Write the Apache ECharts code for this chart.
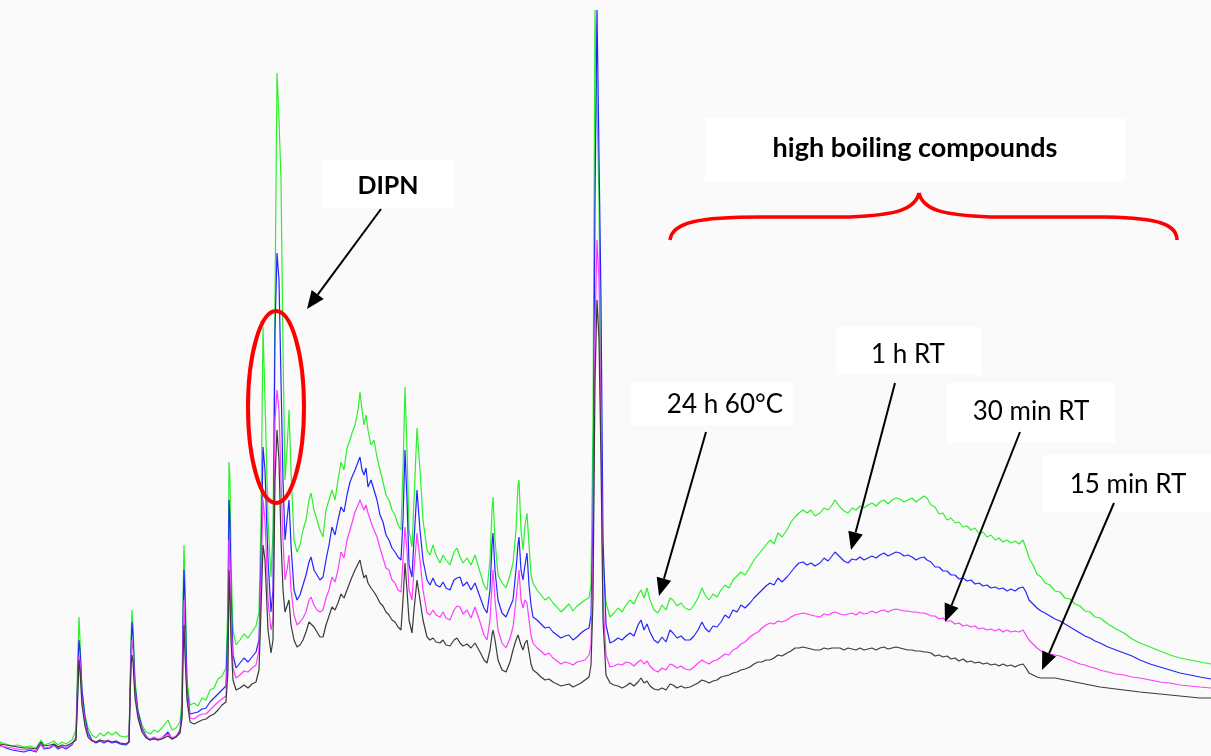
<!DOCTYPE html>
<html>
<head>
<meta charset="utf-8">
<script src="https://cdn.jsdelivr.net/npm/echarts@6/dist/echarts.min.js"></script>
<style>
  html, body { margin: 0; padding: 0; background: #fafafa; }
  #chart { width: 1211px; height: 756px; }
</style>
</head>
<body>
<div id="chart"></div>
<script>
// Retention positions (shared by all four chromatograms)
const retention = [
  0,6,12,18,24,30,36,41,44,50,54,58,62,66,72,76,
  78,79,80,82,85,88,92,96,100,104,108,112,116,120,126,129,
  131,132,133,135,138,142,146,150,154,158,162,168,172,176,180,
  182,183,184,185,187,190,194,198,202,206,210,214,218,222,226,
  228,229,230,231,233,236,240,244,248,252,256,259,
  261,263,265,268,271,273,275,277,279,281,283,285,287,289,291,294,297,
  300,303,306,309,311,314,317,320,323,326,329,332,335,338,341,344,347,350,352,355,358,360,
  362,364,366,368,371,374,377,380,383,386,389,392,395,398,401,
  403,405,407,409,412,414,417,420,423,427,430,433,436,440,443,446,450,
  454,457,460,463,467,471,475,477,480,484,487,490,492,493,
  495,498,502,506,510,513,516,518,519,521,523,525,527,529,531,533,
  537,541,545,549,553,557,561,565,569,573,577,581,585,589,591,
  593,595,597,599,601,603,606,610,
  614,618,622,626,630,634,638,641,644,647,650,654,658,662,666,670,673,677,681,685,690,
  694,698,702,705,709,713,717,721,725,729,733,737,741,745,750,754,758,762,766,770,
  774,778,782,787,791,795,799,803,807,811,815,820,824,828,832,835,837,840,
  844,848,852,856,860,864,868,872,876,880,884,888,892,896,900,904,908,912,916,920,924,
  927,931,935,939,943,947,951,955,959,963,967,971,975,979,983,987,991,995,999,1003,1007,1011,1015,1019,1023,
  1026,1029,1033,1037,1041,1045,1050,1055,1060,1065,1070,1075,1080,1085,1090,1095,1100,1108,1116,1124,1132,1140,1150,1160,1170,1180,1190,1200,1211
];

// Detector response, 24 h at 60°C (green)
const resp24h60C = [
  14,12,10,11,9,10,8,16,11,13,15,11,14,12,16,26,
  106,139,116,66,41,28,21,18,23,20,24,21,24,20,19,21,
  116,146,131,76,46,31,24,22,26,24,28,36,26,28,34,
  56,156,211,176,76,51,53,50,58,56,66,68,77,80,88,
  156,294,276,196,126,111,116,122,118,124,130,144,
  236,429,356,236,179,226,456,683,636,576,406,276,306,346,286,216,204,
  211,226,236,256,263,246,236,226,219,246,256,266,256,276,294,286,308,316,323,331,346,364,
  346,331,341,326,311,316,299,286,274,261,256,246,241,231,226,
  286,369,306,226,209,256,328,286,236,206,201,211,201,193,201,196,191,
  204,208,199,193,198,191,201,203,184,171,166,196,246,259,
  216,181,173,168,181,193,226,271,276,226,206,231,243,211,181,173,
  166,161,156,159,153,149,144,148,152,145,150,153,156,158,171,
  336,746,746,556,336,196,153,139,
  143,148,144,151,156,152,161,166,158,168,156,146,143,151,146,158,156,150,153,148,146,
  151,158,168,161,156,162,159,166,171,168,176,180,184,181,189,196,201,206,211,216,
  212,223,219,226,234,239,243,246,243,246,240,243,248,246,251,256,258,249,
  245,243,248,246,250,248,251,253,250,254,256,252,256,258,257,254,256,258,254,257,260,
  258,251,249,242,243,236,238,233,234,229,230,226,228,222,224,219,221,216,218,214,216,213,215,212,216,
  208,198,191,182,179,173,171,165,164,158,157,152,150,145,144,139,138,132,127,123,117,113,109,105,101,98,96,94,92
];

// Detector response, 1 h at room temperature (blue)
const resp1hRT = [
  11,8,6,5,4,6,4,12,7,8,11,7,9,7,11,19,
  91,116,106,66,38,24,16,13,15,13,15,13,14,12,11,14,
  106,134,121,71,44,28,20,16,18,16,18,24,17,19,26,
  46,136,186,156,68,42,43,44,47,48,54,58,62,66,70,
  136,256,236,166,101,88,93,98,94,99,104,116,
  196,309,286,196,144,166,426,503,476,376,276,216,236,256,211,166,156,
  161,171,181,194,199,186,181,176,179,196,211,229,221,236,249,244,261,274,279,286,294,299,
  286,281,288,269,276,266,256,241,234,221,216,208,204,199,196,
  236,306,256,191,179,216,266,226,196,176,171,178,171,169,174,168,166,
  176,178,179,170,174,166,173,174,159,148,143,166,211,223,
  186,156,143,139,149,156,186,211,219,186,176,191,203,171,151,139,
  136,132,128,129,124,121,118,120,121,116,119,123,126,128,141,
  236,556,746,746,456,216,131,113,
  115,118,116,120,123,120,131,136,126,132,124,116,113,119,114,126,123,118,120,116,116,
  120,126,134,128,124,130,129,134,141,138,146,144,151,148,153,158,162,166,170,173,
  171,178,174,179,184,189,193,194,191,193,190,193,198,195,200,204,206,199,
  195,193,197,196,199,196,198,200,198,201,203,200,202,204,203,200,201,199,196,198,199,
  196,194,189,189,185,185,181,181,177,178,175,176,172,173,170,171,168,169,167,168,165,167,165,168,169,
  164,156,152,148,145,143,140,137,135,132,129,126,123,120,118,115,113,109,106,103,100,96,92,89,86,83,81,79,77
];

// Detector response, 30 min at room temperature (magenta)
const resp30minRT = [
  10,9,8,7,6,7,5,13,8,9,12,8,10,8,12,18,
  76,101,94,56,34,21,16,14,16,14,16,14,15,13,12,14,
  96,116,106,64,40,26,19,17,19,17,18,22,18,20,24,
  41,116,156,116,61,38,37,40,42,42,46,50,54,57,60,
  106,216,196,136,88,78,81,85,84,88,91,106,
  176,256,236,156,126,136,336,366,346,276,216,176,186,201,166,141,131,
  134,138,144,156,159,151,146,144,146,158,166,179,174,186,204,198,216,226,233,244,251,256,
  251,246,251,243,234,226,219,208,198,188,186,176,173,166,164,
  196,229,206,166,156,186,223,196,166,143,141,146,141,139,144,138,136,
  146,150,149,142,146,138,149,149,134,121,116,136,171,186,
  156,126,113,108,118,129,156,176,186,156,148,156,153,136,121,113,
  108,105,101,103,98,95,92,94,93,91,94,95,96,101,111,
  196,426,516,476,326,156,101,89,
  90,92,91,94,93,90,94,96,92,95,90,86,84,88,86,92,91,88,90,87,86,
  89,93,96,94,92,95,96,99,102,101,106,108,112,114,119,122,124,128,131,133,
  132,135,134,136,139,141,142,143,142,141,140,139,142,141,143,144,144,142,
  141,142,143,141,144,142,143,145,143,145,146,144,146,147,146,145,145,144,144,143,143,
  142,140,140,137,138,135,135,132,133,130,131,129,130,127,128,126,127,125,127,124,126,124,125,124,126,
  121,116,112,108,105,103,102,101,100,98,96,94,92,91,89,88,86,84,82,81,79,78,76,74,73,71,70,69,68
];

// Detector response, 15 min at room temperature (black)
const resp15minRT = [
  12,11,10,9,8,8,7,14,10,11,12,9,11,10,13,16,
  66,96,86,51,30,19,15,14,16,15,15,14,15,13,12,14,
  91,101,94,58,38,24,18,16,17,16,17,20,17,19,23,
  38,96,131,101,56,34,32,34,36,37,40,42,46,51,54,
  86,186,156,116,76,66,68,71,68,72,74,86,
  146,211,196,126,103,116,276,326,296,216,166,144,146,156,131,116,109,
  111,116,124,134,136,129,124,119,119,131,140,149,146,153,162,158,166,174,179,186,192,196,
  186,178,181,173,168,164,159,153,150,144,141,136,134,129,126,
  156,193,166,136,123,146,176,156,136,119,116,118,114,113,116,111,110,
  116,118,113,110,112,108,113,113,104,96,93,106,121,126,
  116,96,86,84,94,106,116,121,123,111,106,113,116,104,92,86,
  83,79,76,77,74,72,70,71,72,69,71,73,76,79,91,
  156,376,456,416,296,136,81,73,
  71,70,68,70,73,70,74,78,73,75,70,67,66,68,66,72,71,68,70,68,69,
  71,73,76,75,73,75,76,79,80,81,83,84,86,87,89,92,94,94,96,96,
  98,101,100,103,105,108,108,109,108,107,106,106,108,107,108,108,109,108,
  106,108,107,106,108,106,107,108,106,108,109,107,108,109,108,107,106,106,105,105,104,
  104,103,100,101,99,100,97,98,95,97,94,95,93,94,92,93,91,92,90,92,90,91,89,91,92,
  88,83,81,79,78,78,78,78,77,76,75,74,73,72,71,70,69,68,67,66,65,64,63,62,61,60,59,58,58
];

const traceNames = ['24 h 60°C', '1 h RT', '30 min RT', '15 min RT'];
const traceValues = [resp24h60C, resp1hRT, resp30minRT, resp15minRT];
const traceColors = ['#2cf02c', '#2424ff', '#ff3cff', '#3a3a3a'];

const chart = echarts.init(document.getElementById('chart'), null, { renderer: 'canvas' });

function pairs(values) {
  return retention.map((x, i) => [x, values[i]]);
}

// Line with a filled triangular head ending at (x2, y2)
function arrow(x1, y1, x2, y2) {
  const ang = Math.atan2(y2 - y1, x2 - x1);
  const L = 18, W = 7.5;
  const bx = x2 - L * Math.cos(ang), by = y2 - L * Math.sin(ang);
  const px = -Math.sin(ang), py = Math.cos(ang);
  return [
    { type: 'line', z: 100, shape: { x1, y1, x2: bx, y2: by },
      style: { stroke: '#000', lineWidth: 2 } },
    { type: 'polygon', z: 100,
      shape: { points: [[x2, y2], [bx + px * W, by + py * W], [bx - px * W, by - py * W]] },
      style: { fill: '#000' } }
  ];
}

function labelBox(x, y, w, h, text, bold, size, cx, cy) {
  return [
    { type: 'rect', z: 90, shape: { x, y, width: w, height: h }, style: { fill: '#ffffff' } },
    { type: 'text', z: 101, x: cx, y: cy,
      style: { text, fill: '#000', font: (bold ? 'bold ' : '') + size + 'px Lato, "Open Sans", sans-serif',
               textAlign: 'center', textVerticalAlign: 'middle' } }
  ];
}

// Curly brace over the late-eluting hump
const braceStyle = { fill: null, stroke: '#ff0000', lineWidth: 3.5 };
function curve(x1, y1, cpx1, cpy1, cpx2, cpy2, x2, y2) {
  return { type: 'bezierCurve', z: 100, shape: { x1, y1, cpx1, cpy1, cpx2, cpy2, x2, y2 }, style: braceStyle };
}
function segment(x1, y1, x2, y2) {
  return { type: 'line', z: 100, shape: { x1, y1, x2, y2 }, style: braceStyle };
}

const graphics = [].concat(
  labelBox(322, 160, 133, 48, 'DIPN', true, 25, 388, 186),
  labelBox(705, 118, 420, 64, 'high boiling compounds', true, 27, 915, 148),
  labelBox(631, 383, 162, 42, '24 h 60°C', false, 26, 725, 405),
  labelBox(836, 327, 145, 48, '1 h RT', false, 26, 908, 355),
  labelBox(947, 383, 168, 60, '30 min RT', false, 26, 1031, 412),
  labelBox(1043, 455, 168, 57, '15 min RT', false, 26, 1128, 485),
  arrow(381, 209, 307, 309),
  arrow(706, 432, 659, 596),
  arrow(895, 383, 851, 550),
  arrow(1020, 432, 945, 622),
  arrow(1114, 503, 1042, 670),
  [
    { type: 'ellipse', z: 100, shape: { cx: 276, cy: 407, rx: 28, ry: 96 },
      style: { fill: null, stroke: '#ff0000', lineWidth: 4 } },
    curve(670, 240, 672, 222, 700, 217, 760, 217),
    segment(760, 217, 850, 217),
    curve(850, 217, 895, 215, 915, 210, 919, 193),
    curve(919, 193, 923, 210, 943, 215, 990, 217),
    segment(990, 217, 1107, 217),
    curve(1107, 217, 1160, 218, 1177, 225, 1177, 240)
  ]
);

chart.setOption({
  animation: false,
  backgroundColor: '#fafafa',
  grid: { left: 0, right: 0, top: 0, bottom: 0 },
  xAxis: { type: 'value', min: 0, max: 1211, show: false },
  yAxis: { type: 'value', min: 0, max: 756, show: false },
  series: traceNames.map((name, i) => ({
    name,
    type: 'line',
    data: pairs(traceValues[i]),
    showSymbol: false,
    symbol: 'none',
    clip: true,
    lineStyle: { color: traceColors[i], width: 1.2 },
    z: 2 + i
  })),
  graphic: graphics
});
</script>
</body>
</html>
